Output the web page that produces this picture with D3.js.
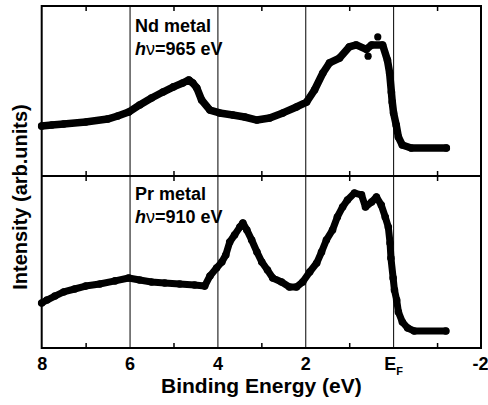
<!DOCTYPE html>
<html>
<head>
<meta charset="utf-8">
<title>Nd / Pr metal</title>
<style>
  body { margin: 0; background: #fff; }
  text { font-family: Arial, "Liberation Sans", sans-serif; font-weight: bold; fill: #000; }
</style>
<script src="https://d3js.org/d3.v7.min.js"></script>
</head>
<body>
<svg id="chart" width="488" height="405"></svg>
<script>
// binding energy (eV) and intensity (arb. units)
var ndEnergy = [8.0, 7.77, 7.5, 7.0, 6.5, 6.27, 6.02, 5.77, 5.5, 5.24, 5.0, 4.79, 4.65, 4.56, 4.47, 4.36, 4.17, 3.95, 3.65, 3.38, 3.1, 2.81, 2.51, 2.2, 1.97, 1.79, 1.6, 1.45, 1.22, 1.0, 0.84, 0.61, 0.49, 0.24, 0.13, 0.08, 0.04, 0.02, -0.01, -0.07, -0.12, -0.21, -0.41, -1.21];
var ndIntensity = [29.4, 30.0, 30.6, 31.8, 33.5, 35.3, 37.6, 41.8, 45.9, 49.4, 52.4, 54.7, 56.5, 54.7, 51.8, 44.7, 38.8, 37.1, 35.9, 34.7, 32.9, 34.1, 37.1, 40.6, 43.5, 50.6, 60.6, 66.5, 69.4, 75.9, 77.1, 74.5, 77.1, 77.1, 68.2, 60.6, 49.4, 43.5, 37.1, 30.0, 22.9, 18.2, 16.5, 16.5];
var ndOutlier = [[0.35, 81.8], [0.57, 70.5]];

var prEnergy = [8.0, 7.88, 7.7, 7.5, 7.25, 7.0, 6.68, 6.33, 6.02, 5.77, 5.5, 5.2, 4.86, 4.52, 4.29, 4.17, 4.02, 3.9, 3.81, 3.72, 3.61, 3.49, 3.42, 3.33, 3.22, 3.1, 2.99, 2.86, 2.74, 2.54, 2.36, 2.2, 2.06, 1.9, 1.74, 1.63, 1.52, 1.38, 1.27, 1.15, 1.04, 0.88, 0.72, 0.63, 0.49, 0.38, 0.27, 0.18, 0.11, 0.07, 0.05, 0.0, -0.03, -0.08, -0.12, -0.21, -0.33, -0.48, -1.2];
var prIntensity = [26.2, 27.9, 30.2, 32.6, 34.3, 36.0, 37.2, 39.0, 40.7, 39.5, 38.4, 37.8, 37.2, 36.6, 36.0, 41.9, 46.5, 50.0, 54.1, 61.6, 65.7, 70.3, 72.7, 68.6, 62.8, 55.8, 50.0, 45.3, 40.7, 38.4, 35.5, 35.5, 38.4, 44.2, 49.4, 55.8, 62.8, 68.6, 76.2, 82.0, 86.0, 90.1, 89.0, 82.0, 84.9, 87.8, 83.1, 76.2, 70.3, 61.0, 52.3, 40.7, 33.7, 27.9, 20.9, 15.1, 11.6, 9.9, 9.9];

var xTickValues = [8, 6, 4, 2, 0, -2];
var xTickLabels = ["8", "6", "4", "2", "E", "-2"];
var minorTicks = [7, 5, 3, 1, -1];

var svg = d3.select("#chart");
// (don't call it "top" -- window.top is read-only)
var plotL = 41.7, plotR = 481, plotT = 6, plotM = 176, plotB = 348;

var x = d3.scaleLinear().domain([8, -2]).range([plotL, plotR]);
var yTop = d3.scaleLinear().domain([0, 100]).range([plotM, plotT]);
var yBot = d3.scaleLinear().domain([0, 100]).range([plotB, plotM]);

// vertical lines at the major ticks
svg.append("g")
  .attr("transform", "translate(0," + plotB + ")")
  .call(d3.axisBottom(x).tickValues([6, 4, 2, 0]).tickSize(-(plotB - plotT)).tickFormat(""))
  .call(g => g.select(".domain").remove())
  .selectAll("line").attr("stroke", "#000").attr("stroke-width", 1);

// minor ticks, inside each panel edge
function minor(axis, yPos) {
  svg.append("g")
    .attr("transform", "translate(0," + yPos + ")")
    .call(axis(x).tickValues(minorTicks).tickSize(-5).tickFormat(""))
    .call(g => g.select(".domain").remove())
    .selectAll("line").attr("stroke", "#000").attr("stroke-width", 1.5);
}
minor(d3.axisTop, plotT);
minor(d3.axisBottom, plotM);
minor(d3.axisTop, plotM);
minor(d3.axisBottom, plotB);

// frame + divider
svg.append("rect")
  .attr("x", plotL).attr("y", plotT)
  .attr("width", plotR - plotL).attr("height", plotB - plotT)
  .attr("fill", "none").attr("stroke", "#000").attr("stroke-width", 2);
svg.append("line")
  .attr("x1", plotL).attr("x2", plotR).attr("y1", plotM).attr("y2", plotM)
  .attr("stroke", "#000").attr("stroke-width", 2);

// tick labels
var xAxis = svg.append("g")
  .attr("transform", "translate(0," + plotB + ")")
  .call(d3.axisBottom(x).tickValues(xTickValues).tickSize(0).tickPadding(9)
    .tickFormat((d, i) => xTickLabels[i]));
xAxis.select(".domain").remove();
xAxis.selectAll("text")
  .attr("font-size", 18).attr("font-family", "Arial, 'Liberation Sans', sans-serif")
  .attr("font-weight", "bold");
xAxis.selectAll("text").filter(d => d === 0)
  .append("tspan").attr("font-size", 11).attr("dy", 5).text("F");
xAxis.selectAll("text").filter(d => d === -2).attr("dx", -1);

// axis titles
svg.append("text")
  .attr("x", (plotL + plotR) / 2).attr("y", 393)
  .attr("text-anchor", "middle").attr("font-size", 21)
  .text("Binding Energy (eV)");
svg.append("text")
  .attr("transform", "translate(27,197) rotate(-90)")
  .attr("text-anchor", "middle").attr("font-size", 20)
  .text("Intensity (arb.units)");

// data
function drawSeries(en, val, y, w) {
  var pts = en.map((e, i) => [e, val[i]]);
  svg.append("path")
    .datum(pts)
    .attr("fill", "none").attr("stroke", "#000")
    .attr("stroke-width", w).attr("stroke-linejoin", "round").attr("stroke-linecap", "round")
    .attr("d", d3.line().x(d => x(d[0])).y(d => y(d[1])));
  svg.append("g").selectAll("circle")
    .data(pts).join("circle")
    .attr("cx", d => x(d[0])).attr("cy", d => y(d[1])).attr("r", 3.8)
    .attr("fill", "#000");
}
drawSeries(ndEnergy, ndIntensity, yTop, 7.5);
svg.append("g").selectAll("circle")
  .data(ndOutlier).join("circle")
  .attr("cx", d => x(d[0])).attr("cy", d => yTop(d[1])).attr("r", 3.6).attr("fill", "#000");
drawSeries(prEnergy, prIntensity, yBot, 7);

// panel labels
function panelLabel(name, energy, y0) {
  svg.append("text").attr("x", 135).attr("y", y0).attr("font-size", 18).text(name);
  var t = svg.append("text").attr("x", 135).attr("y", y0 + 23).attr("font-size", 18);
  t.append("tspan").attr("font-style", "italic").text("h");
  t.append("tspan").attr("font-weight", "normal").text("\u03bd");
  t.append("tspan").text("=" + energy + " eV");
}
panelLabel("Nd metal", 965, 32);
panelLabel("Pr metal", 910, 200);
</script>
</body>
</html>
